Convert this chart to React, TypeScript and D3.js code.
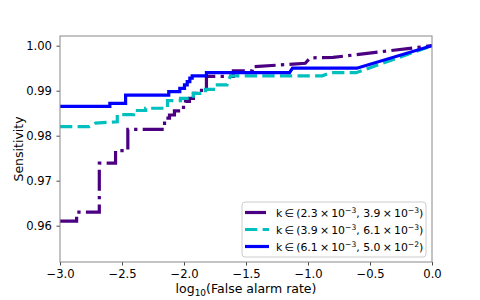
import { useEffect, useRef } from "react";
import * as d3 from "d3";

type Pt = [number, number];

// log10(false alarm rate), sensitivity
const lowK: Pt[] = [
  [-3, 0.961], [-2.866, 0.961], [-2.866, 0.963], [-2.683, 0.963], [-2.683, 0.9739],
  [-2.552, 0.9739], [-2.552, 0.9767], [-2.453, 0.9767], [-2.453, 0.9814], [-2.157, 0.9814],
  [-2.157, 0.9839], [-2.117, 0.9839], [-2.117, 0.9846], [-2.077, 0.9846], [-2.077, 0.9855],
  [-2.044, 0.9855], [-2.044, 0.9863], [-1.988, 0.9863], [-1.988, 0.9876], [-1.956, 0.9876],
  [-1.956, 0.9883], [-1.924, 0.9883], [-1.924, 0.9894], [-1.859, 0.9894], [-1.859, 0.9905],
  [-1.819, 0.9905], [-1.819, 0.9932], [-1.602, 0.9932], [-1.602, 0.9944], [-1.449, 0.9944],
  [-1.449, 0.9953], [-1.022, 0.9961], [-0.982, 0.9973], [-0.797, 0.9974], [0, 1.0],
];

const midK: Pt[] = [
  [-3, 0.982], [-2.767, 0.982], [-2.713, 0.9828], [-2.538, 0.9831], [-2.538, 0.9847],
  [-2.407, 0.9847], [-2.407, 0.9856], [-2.309, 0.9856], [-2.309, 0.9861], [-2.133, 0.9861],
  [-2.133, 0.9878], [-2.028, 0.9878], [-2.028, 0.9883], [-1.924, 0.9883], [-1.924, 0.9894],
  [-1.827, 0.9894], [-1.827, 0.9903], [-1.763, 0.9903], [-1.763, 0.9913], [-1.653, 0.9913],
  [-1.626, 0.9933], [-0.885, 0.9933], [-0.821, 0.994], [-0.612, 0.994], [0, 1.0],
];

const highK: Pt[] = [
  [-3, 0.9865], [-2.598, 0.9865], [-2.598, 0.9872], [-2.471, 0.9872], [-2.471, 0.989],
  [-2.123, 0.989], [-2.123, 0.9898], [-2.034, 0.9898], [-2.034, 0.9905], [-1.996, 0.9905],
  [-1.996, 0.9913], [-1.974, 0.9913], [-1.974, 0.992], [-1.953, 0.992], [-1.953, 0.9928],
  [-1.934, 0.9928], [-1.934, 0.9933], [-1.819, 0.9933], [-1.819, 0.994], [-1.149, 0.994],
  [-1.125, 0.995], [-0.606, 0.995], [0, 1.0],
];

const xTicks = [-3, -2.5, -2, -1.5, -1, -0.5, 0];
const yTicks = [0.96, 0.97, 0.98, 0.99, 1.0];

const series = [
  { data: lowK, color: "#4b0082", dash: "21,5.3,3.3,5.3", a: "2.3", b: "3.9", ea: "−3", eb: "−3" },
  { data: midK, color: "#00bfbf", dash: "12.3,5.3", a: "3.9", b: "6.1", ea: "−3", eb: "−3" },
  { data: highK, color: "#0000ff", dash: "none", a: "6.1", b: "5.0", ea: "−3", eb: "−2" },
];

export default function App() {
  const ref = useRef<SVGSVGElement>(null);

  useEffect(() => {
    if (!ref.current) return;
    const width = 480;
    const height = 300;
    const m = { top: 36, right: 48, bottom: 38, left: 60 };
    const iw = width - m.left - m.right;
    const ih = height - m.top - m.bottom;

    const root = d3.select(ref.current);
    root.selectAll("*").remove();
    root.attr("width", width).attr("height", height);

    const font = "'DejaVu Sans', sans-serif";
    const svg = root.append("g").attr("transform", `translate(${m.left},${m.top})`);

    const x = d3.scaleLinear().domain([-3, 0]).range([0, iw]);
    const y = d3.scaleLinear().domain([0.95193, 1.002156]).range([ih, 0]);

    root
      .append("defs")
      .append("clipPath")
      .attr("id", "plot-clip")
      .append("rect")
      .attr("width", iw)
      .attr("height", ih);

    const line = d3
      .line<Pt>()
      .x((d) => x(d[0]))
      .y((d) => y(d[1]));

    const lines = svg.append("g").attr("clip-path", "url(#plot-clip)");
    series.forEach((s) => {
      lines
        .append("path")
        .datum(s.data)
        .attr("fill", "none")
        .attr("stroke", s.color)
        .attr("stroke-width", 3.2)
        .attr("stroke-dasharray", s.dash)
        .attr("d", line);
    });

    const xAxis = svg
      .append("g")
      .attr("transform", `translate(0,${ih})`)
      .call(
        d3.axisBottom(x).tickValues(xTicks).tickFormat(d3.format(".1f")).tickSize(3.5).tickPadding(4)
      );
    const yAxis = svg
      .append("g")
      .call(
        d3.axisLeft(y).tickValues(yTicks).tickFormat(d3.format(".2f")).tickSize(3.5).tickPadding(4.5)
      );
    [xAxis, yAxis].forEach((a) => {
      a.select(".domain").remove();
      a.selectAll("line").attr("stroke", "#333").attr("stroke-width", 0.9);
      a.selectAll("text").attr("fill", "#000").style("font-family", font).style("font-size", "11.6px");
    });

    svg
      .append("rect")
      .attr("width", iw)
      .attr("height", ih)
      .attr("fill", "none")
      .attr("stroke", "#888")
      .attr("stroke-width", 1);

    svg
      .append("text")
      .attr("x", iw / 2)
      .attr("y", ih + 31)
      .attr("text-anchor", "middle")
      .style("font-family", font)
      .style("font-size", "12.5px")
      .call((t) => {
        t.append("tspan").text("log");
        t.append("tspan").attr("dy", 3).style("font-size", "9px").text("10");
        t.append("tspan").attr("dy", -3).text("(False alarm rate)");
      });

    svg
      .append("text")
      .attr("transform", `translate(${-37},${ih / 2}) rotate(-90)`)
      .attr("text-anchor", "middle")
      .style("font-family", font)
      .style("font-size", "12.5px")
      .text("Sensitivity");

    // legend
    const lg = svg.append("g").attr("transform", `translate(${182},${166})`);
    lg.append("rect")
      .attr("width", 184)
      .attr("height", 55)
      .attr("rx", 3)
      .attr("fill", "#fff")
      .attr("fill-opacity", 0.8)
      .attr("stroke", "#ccc")
      .attr("stroke-width", 1);
    series.forEach((s, i) => {
      const cy = 10.5 + i * 17;
      lg.append("line")
        .attr("x1", 3)
        .attr("x2", 27)
        .attr("y1", cy)
        .attr("y2", cy)
        .attr("stroke", s.color)
        .attr("stroke-width", 3.2)
        .attr("stroke-dasharray", s.dash);
      const t = lg
        .append("text")
        .attr("x", 34)
        .attr("y", cy + 4)
        .style("font-family", font)
        .style("font-size", "10.9px");
      t.append("tspan").text(`k\u2009∈\u2009(${s.a}\u2009×\u200910`);
      t.append("tspan").attr("dy", -4).style("font-size", "7.6px").text(s.ea);
      t.append("tspan").attr("dy", 4).text(`, ${s.b}\u2009×\u200910`);
      t.append("tspan").attr("dy", -4).style("font-size", "7.6px").text(s.eb);
      t.append("tspan").attr("dy", 4).text(")");
    });
  }, []);

  return <svg ref={ref} style={{ position: "absolute", left: 0, top: 0 }} />;
}
